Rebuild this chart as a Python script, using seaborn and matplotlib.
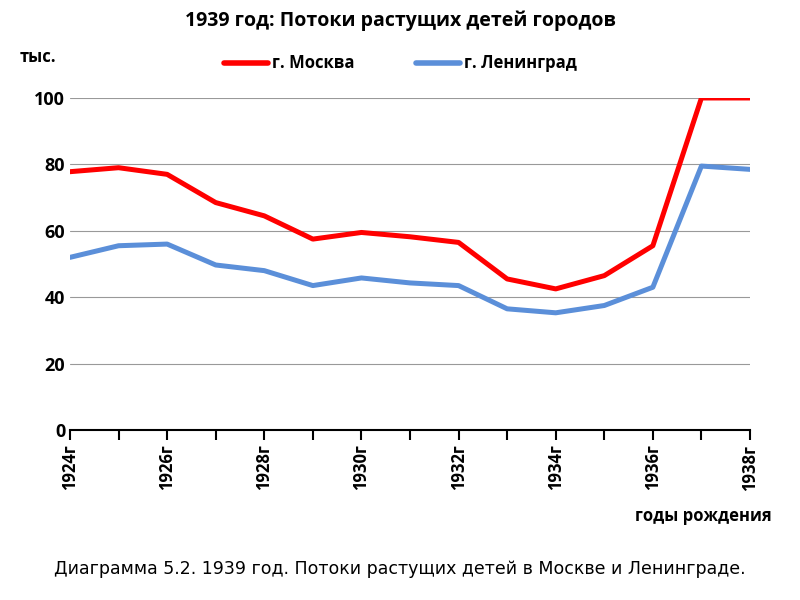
import matplotlib
matplotlib.use("Agg")
import matplotlib.pyplot as plt
import seaborn as sns
import pandas as pd

years = list(range(1924, 1939))
moscow = [77.8, 79.0, 77.0, 68.5, 64.5, 57.5, 59.5, 58.2, 56.5, 45.5, 42.5, 46.5, 55.5, 100.0, 100.0]
leningrad = [52.0, 55.5, 56.0, 49.7, 48.0, 43.5, 45.8, 44.3, 43.5, 36.5, 35.3, 37.5, 43.0, 79.5, 78.5]

df = pd.DataFrame({"year": years * 2,
                   "value": moscow + leningrad,
                   "city": ["г. Москва"] * len(years) + ["г. Ленинград"] * len(years)})

sns.set_theme(style="white", rc={"font.family": "Open Sans", "text.color": "black",
                                 "xtick.color": "black", "ytick.color": "black"})
fig = plt.figure(figsize=(8, 6), dpi=100)
ax = fig.add_axes([0.0875, 0.2833, 0.85, 0.5534])

sns.lineplot(data=df, x="year", y="value", hue="city",
             palette={"г. Москва": "#ff0000", "г. Ленинград": "#5b8fd9"},
             linewidth=3.6, ax=ax, legend=False)

ax.set_xlim(1924, 1938)
ax.set_ylim(0, 100)
ax.set_yticks(range(0, 101, 20))
ax.yaxis.grid(True, color="#999999", linewidth=0.8)
ax.set_xticks(years)
ax.set_xticklabels([f"{y}г" if (y - 1924) % 2 == 0 else "" for y in years],
                   rotation=90, fontsize=12, fontweight="bold")
ax.tick_params(axis="x", length=7, width=1.5, direction="out", color="black", bottom=True)
ax.tick_params(axis="y", length=0, labelsize=13)
for lab in ax.get_yticklabels():
    lab.set_fontweight("bold")
for s in ["top", "right", "left"]:
    ax.spines[s].set_visible(False)
ax.spines["bottom"].set_color("black")
ax.spines["bottom"].set_linewidth(1.5)
ax.set_xlabel("")
ax.set_ylabel("")

fig.text(0.5, 0.965, "1939 год: Потоки растущих детей городов", ha="center", va="center",
         fontsize=14, fontweight="bold")
fig.text(0.025, 0.905, "тыс.", fontsize=12, fontweight="bold", va="center")
fig.text(0.965, 0.14, "годы рождения", ha="right", va="center", fontsize=12, fontweight="bold")
fig.text(0.5, 0.052, "Диаграмма 5.2. 1939 год. Потоки растущих детей в Москве и Ленинграде.",
         ha="center", va="center", fontsize=12.5, family="DejaVu Sans")

# legend
fig.lines.append(plt.Line2D([0.28, 0.335], [0.895, 0.895], color="#ff0000", lw=4, transform=fig.transFigure))
fig.text(0.34, 0.895, "г. Москва", va="center", fontsize=12, fontweight="bold")
fig.lines.append(plt.Line2D([0.52, 0.575], [0.895, 0.895], color="#5b8fd9", lw=4, transform=fig.transFigure))
fig.text(0.58, 0.895, "г. Ленинград", va="center", fontsize=12, fontweight="bold")

fig.savefig("out.png", dpi=100)
